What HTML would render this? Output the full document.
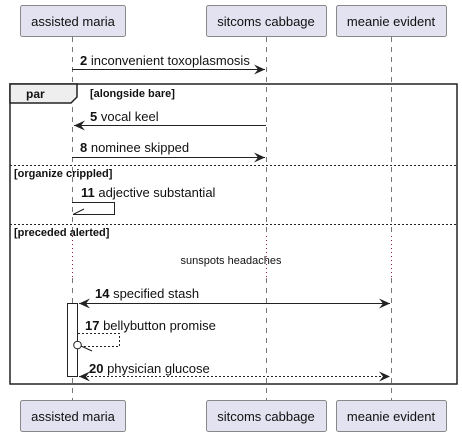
<!DOCTYPE html>
<html><head><meta charset="utf-8"><style>
html,body{margin:0;padding:0;background:#fff;}
svg{display:block;font-family:"Liberation Sans",sans-serif;}
</style></head><body>
<svg width="462" height="437" viewBox="0 0 462 437" xmlns="http://www.w3.org/2000/svg">
<defs>
<marker id="ah" viewBox="0 0 12 10" refX="11" refY="5" markerWidth="12" markerHeight="10" markerUnits="userSpaceOnUse" orient="auto-start-reverse">
<path d="M0,0 L11,5 L0,10 L4,5 Z" fill="#222"/>
</marker>
</defs>
<g stroke="#777" stroke-width="1" stroke-dasharray="5,5">
<line x1="72.5" y1="37" x2="72.5" y2="236"/>
<line x1="72.5" y1="278" x2="72.5" y2="400"/>
<line x1="266.5" y1="37" x2="266.5" y2="236"/>
<line x1="266.5" y1="278" x2="266.5" y2="400"/>
<line x1="391.5" y1="37" x2="391.5" y2="236"/>
<line x1="391.5" y1="278" x2="391.5" y2="400"/>
</g>
<g stroke="#a0204a" stroke-width="1" stroke-dasharray="1,3">
<line x1="72.5" y1="236" x2="72.5" y2="278"/>
<line x1="266.5" y1="236" x2="266.5" y2="278"/>
<line x1="391.5" y1="236" x2="391.5" y2="278"/>
</g>
<g fill="#e2e2f0" stroke="#888" stroke-width="1">
<rect x="20.5" y="5.5" width="105" height="31" rx="2"/>
<rect x="206.5" y="5.5" width="120" height="31" rx="2"/>
<rect x="336.5" y="5.5" width="110" height="31" rx="2"/>
<rect x="20.5" y="400.5" width="105" height="31" rx="2"/>
<rect x="206.5" y="400.5" width="120" height="31" rx="2"/>
<rect x="336.5" y="400.5" width="110" height="31" rx="2"/>
</g>
<g font-size="13" fill="#111" text-anchor="middle">
<text x="73" y="26">assisted maria</text>
<text x="266" y="26">sitcoms cabbage</text>
<text x="391" y="26">meanie evident</text>
<text x="73" y="421">assisted maria</text>
<text x="266" y="421">sitcoms cabbage</text>
<text x="391" y="421">meanie evident</text>
</g>
<line x1="72" y1="69.5" x2="265" y2="69.5" stroke="#222" marker-end="url(#ah)"/>
<text x="80" y="65" font-size="13" fill="#111"><tspan font-weight="bold">2</tspan> inconvenient toxoplasmosis</text>
<rect x="10" y="84" width="447" height="300" fill="none" stroke="#222" stroke-width="1.5"/>
<path d="M10,84 L77,84 L77,97 L71,103 L10,103 Z" fill="#eee" stroke="#222" stroke-width="1.5"/>
<text x="26" y="98" font-size="12" font-weight="bold" fill="#111">par</text>
<text x="90" y="97" font-size="11" font-weight="bold" fill="#111">[alongside bare]</text>
<line x1="266" y1="125.5" x2="74" y2="125.5" stroke="#222" marker-end="url(#ah)"/>
<text x="90" y="121" font-size="13" fill="#111"><tspan font-weight="bold">5</tspan> vocal keel</text>
<line x1="72" y1="157.5" x2="265" y2="157.5" stroke="#222" marker-end="url(#ah)"/>
<text x="80" y="152" font-size="13" fill="#111"><tspan font-weight="bold">8</tspan> nominee skipped</text>
<line x1="10" y1="165.5" x2="457" y2="165.5" stroke="#222" stroke-dasharray="2,2"/>
<text x="14" y="177" font-size="11" font-weight="bold" fill="#111">[organize crippled]</text>
<text x="81" y="197" font-size="13" fill="#111"><tspan font-weight="bold">11</tspan> adjective substantial</text>
<polyline points="72,202.5 114.5,202.5 114.5,214.5 73,214.5" fill="none" stroke="#222"/>
<line x1="73" y1="214.5" x2="84" y2="209" stroke="#222"/>
<line x1="10" y1="224.5" x2="457" y2="224.5" stroke="#222" stroke-dasharray="2,2"/>
<text x="14" y="236" font-size="11" font-weight="bold" fill="#111">[preceded alerted]</text>
<text x="231" y="264" font-size="11" fill="#111" text-anchor="middle">sunspots headaches</text>
<rect x="67.5" y="303.5" width="10" height="73" fill="#fff" stroke="#222"/>
<line x1="79" y1="303.5" x2="390" y2="303.5" stroke="#222" marker-start="url(#ah)" marker-end="url(#ah)"/>
<text x="95" y="298" font-size="13" fill="#111"><tspan font-weight="bold">14</tspan> specified stash</text>
<text x="85" y="330" font-size="13" fill="#111"><tspan font-weight="bold">17</tspan> bellybutton promise</text>
<polyline points="78,333.5 119.5,333.5 119.5,346.5 81,346.5" fill="none" stroke="#222" stroke-dasharray="2,2"/>
<circle cx="77.5" cy="345" r="3.8" fill="#fff" stroke="#222"/>
<line x1="81" y1="346" x2="92" y2="351" stroke="#222"/>
<line x1="79" y1="376.5" x2="390" y2="376.5" stroke="#222" stroke-dasharray="2,2" marker-start="url(#ah)" marker-end="url(#ah)"/>
<text x="89" y="373" font-size="13" fill="#111"><tspan font-weight="bold">20</tspan> physician glucose</text>
</svg>
</body></html>
